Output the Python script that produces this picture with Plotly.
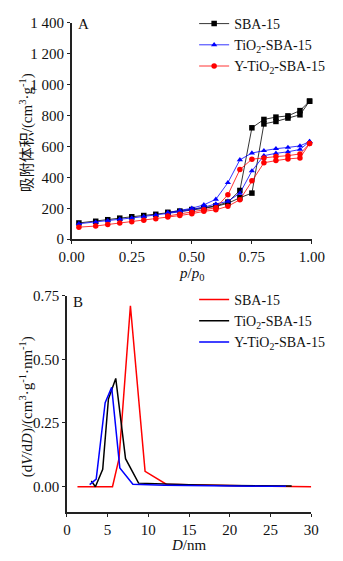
import plotly.graph_objects as go

# ---- Panel A: N2 adsorption-desorption isotherms ----
p_ads = [0.03, 0.10, 0.15, 0.20, 0.25, 0.30, 0.35, 0.40, 0.45, 0.50,
         0.55, 0.60, 0.65, 0.70, 0.75, 0.80, 0.85, 0.90, 0.95, 0.99]
p_des = [0.99, 0.95, 0.90, 0.85, 0.80, 0.75, 0.70, 0.65, 0.60, 0.55, 0.50, 0.45, 0.40]

sba_ads = [105, 116, 126, 136, 145, 153, 161, 169, 178, 188, 200, 212, 232, 268, 298, 745, 761, 783, 804, 892]
sba_des = [892, 831, 797, 789, 774, 720, 315, 240, 215, 205, 192, 182, 174]

ti_ads = [100, 110, 120, 129, 137, 146, 156, 166, 177, 192, 207, 228, 245, 297, 441, 540, 555, 565, 580, 631]
ti_des = [631, 603, 593, 585, 572, 557, 513, 365, 258, 222, 200, 185, 172]

yti_ads = [78, 85, 95, 104, 113, 122, 132, 143, 153, 165, 180, 190, 213, 255, 378, 494, 508, 519, 525, 618]
yti_des = [618, 551, 540, 534, 525, 517, 450, 287, 203, 190, 175, 162, 150]

a_yticks = [0, 200, 400, 600, 800, 1000, 1200, 1400]
a_yticktext = ["0", "200", "400", "600", "800", "1 000", "1 200", "1 400"]
a_xticks = [0, 0.25, 0.5, 0.75, 1.0]
a_xticktext = ["0.00", "0.25", "0.50", "0.75", "1.00"]

# ---- Panel B: pore size distribution ----
d_sba = [1.3, 5.6, 6.4, 7.8, 9.6, 12.2, 15, 20, 25, 30]
v_sba = [0, 0, 0.11, 0.71, 0.06, 0.01, 0.008, 0.004, 0.002, 0]

d_ti = [3.0, 3.5, 4.4, 5.1, 6.0, 7.2, 8.8, 12, 16, 20, 24, 27.6]
v_ti = [0.023, 0, 0.068, 0.344, 0.425, 0.11, 0.014, 0.01, 0.007, 0.005, 0.004, 0.003]

d_yti = [2.8, 3.6, 4.7, 5.5, 6.5, 8.1, 12, 16, 20, 24, 26.9]
v_yti = [0.008, 0.03, 0.33, 0.39, 0.074, 0.01, 0.006, 0.004, 0.003, 0.002, 0.002]

b_yticks = [0, 0.25, 0.5, 0.75]
b_yticktext = ["0.00", "0.25", "0.50", "0.75"]
b_xticks = [0, 5, 10, 15, 20, 25, 30]

names = ["SBA-15", "TiO<sub>2</sub>-SBA-15", "Y-TiO<sub>2</sub>-SBA-15"]

W, H = 343, 561
FONT = "Liberation Serif, Times New Roman, Noto Sans CJK SC, serif"
FS = 15

fig = go.Figure()

iso = [(sba_ads, sba_des, "black", "square"),
       (ti_ads, ti_des, "blue", "triangle-up"),
       (yti_ads, yti_des, "red", "circle")]
for i, (ads, des, col, sym) in enumerate(iso):
    fig.add_trace(go.Scatter(
        x=p_ads + p_des, y=ads + des, mode="lines+markers", name=names[i],
        line=dict(color=col, width=0.8), marker=dict(color=col, symbol=sym, size=5.5),
        cliponaxis=False, xaxis="x", yaxis="y", legend="legend"))

psd = [(d_sba, v_sba, "red"), (d_ti, v_ti, "black"), (d_yti, v_yti, "blue")]
for i, (d, v, col) in enumerate(psd):
    fig.add_trace(go.Scatter(
        x=d, y=v, mode="lines", name=names[i],
        line=dict(color=col, width=1.5), cliponaxis=False,
        xaxis="x2", yaxis="y2", legend="legend2"))

def px_x(x):
    return x / W

def px_y(y):
    return 1 - y / H

axis_common = dict(showline=True, linecolor="#222", linewidth=1.5, ticks="outside",
                   ticklen=3, tickwidth=1.2, tickcolor="#222", showgrid=False,
                   zeroline=False, mirror=False, tickfont=dict(size=FS, color="#111"))

fig.update_layout(
    width=W, height=H, margin=dict(l=0, r=0, t=0, b=0),
    paper_bgcolor="white", plot_bgcolor="white",
    font=dict(family=FONT, size=FS, color="#111"),
    xaxis=dict(domain=[px_x(63.5), px_x(323.5)], range=[0, 1.0], anchor="y",
               tickvals=a_xticks, ticktext=a_xticktext, **axis_common),
    yaxis=dict(domain=[px_y(238), px_y(15)], range=[0, 1400], anchor="x",
               tickvals=a_yticks, ticktext=a_yticktext, **axis_common),
    xaxis2=dict(domain=[px_x(58.3), px_x(322.7)], range=[0, 30], anchor="y2",
                tickvals=b_xticks, **axis_common),
    yaxis2=dict(domain=[px_y(519), px_y(296)], range=[-0.1, 0.75], anchor="x2",
                tickvals=b_yticks, ticktext=b_yticktext, **axis_common),
    legend=dict(x=px_x(196), y=1.0, xanchor="left", yanchor="top",
                bgcolor="rgba(0,0,0,0)", font=dict(size=FS - 1), itemwidth=30,
                tracegroupgap=0),
    legend2=dict(x=px_x(196), y=px_y(284), xanchor="left", yanchor="top",
                 bgcolor="rgba(0,0,0,0)", font=dict(size=FS - 1), itemwidth=30,
                 tracegroupgap=0),
    annotations=[
        dict(text="A", x=px_x(68), y=px_y(16), xref="paper", yref="paper",
             xanchor="left", yanchor="middle", showarrow=False, font=dict(size=FS)),
        dict(text="B", x=px_x(63), y=px_y(303), xref="paper", yref="paper",
             xanchor="left", yanchor="middle", showarrow=False, font=dict(size=FS)),
        dict(text="吸附体积/(cm<sup>3</sup>·g<sup>-1</sup>)", x=px_x(14), y=px_y(128),
             xref="paper", yref="paper", textangle=-90, showarrow=False,
             xanchor="center", yanchor="middle", font=dict(size=FS)),
        dict(text="<i>p</i>/<i>p</i><sub>0</sub>", x=px_x(193), y=px_y(274),
             xref="paper", yref="paper", showarrow=False,
             xanchor="center", yanchor="middle", font=dict(size=FS)),
        dict(text="(d<i>V</i>/d<i>D</i>)/(cm<sup>3</sup>·g<sup>-1</sup>·nm<sup>-1</sup>)",
             x=px_x(14), y=px_y(410), xref="paper", yref="paper", textangle=-90,
             showarrow=False, xanchor="center", yanchor="middle", font=dict(size=FS)),
        dict(text="<i>D</i>/nm", x=px_x(190), y=px_y(553), xref="paper", yref="paper",
             showarrow=False, xanchor="center", yanchor="middle", font=dict(size=FS)),
    ],
)

fig.write_html("out.html")
